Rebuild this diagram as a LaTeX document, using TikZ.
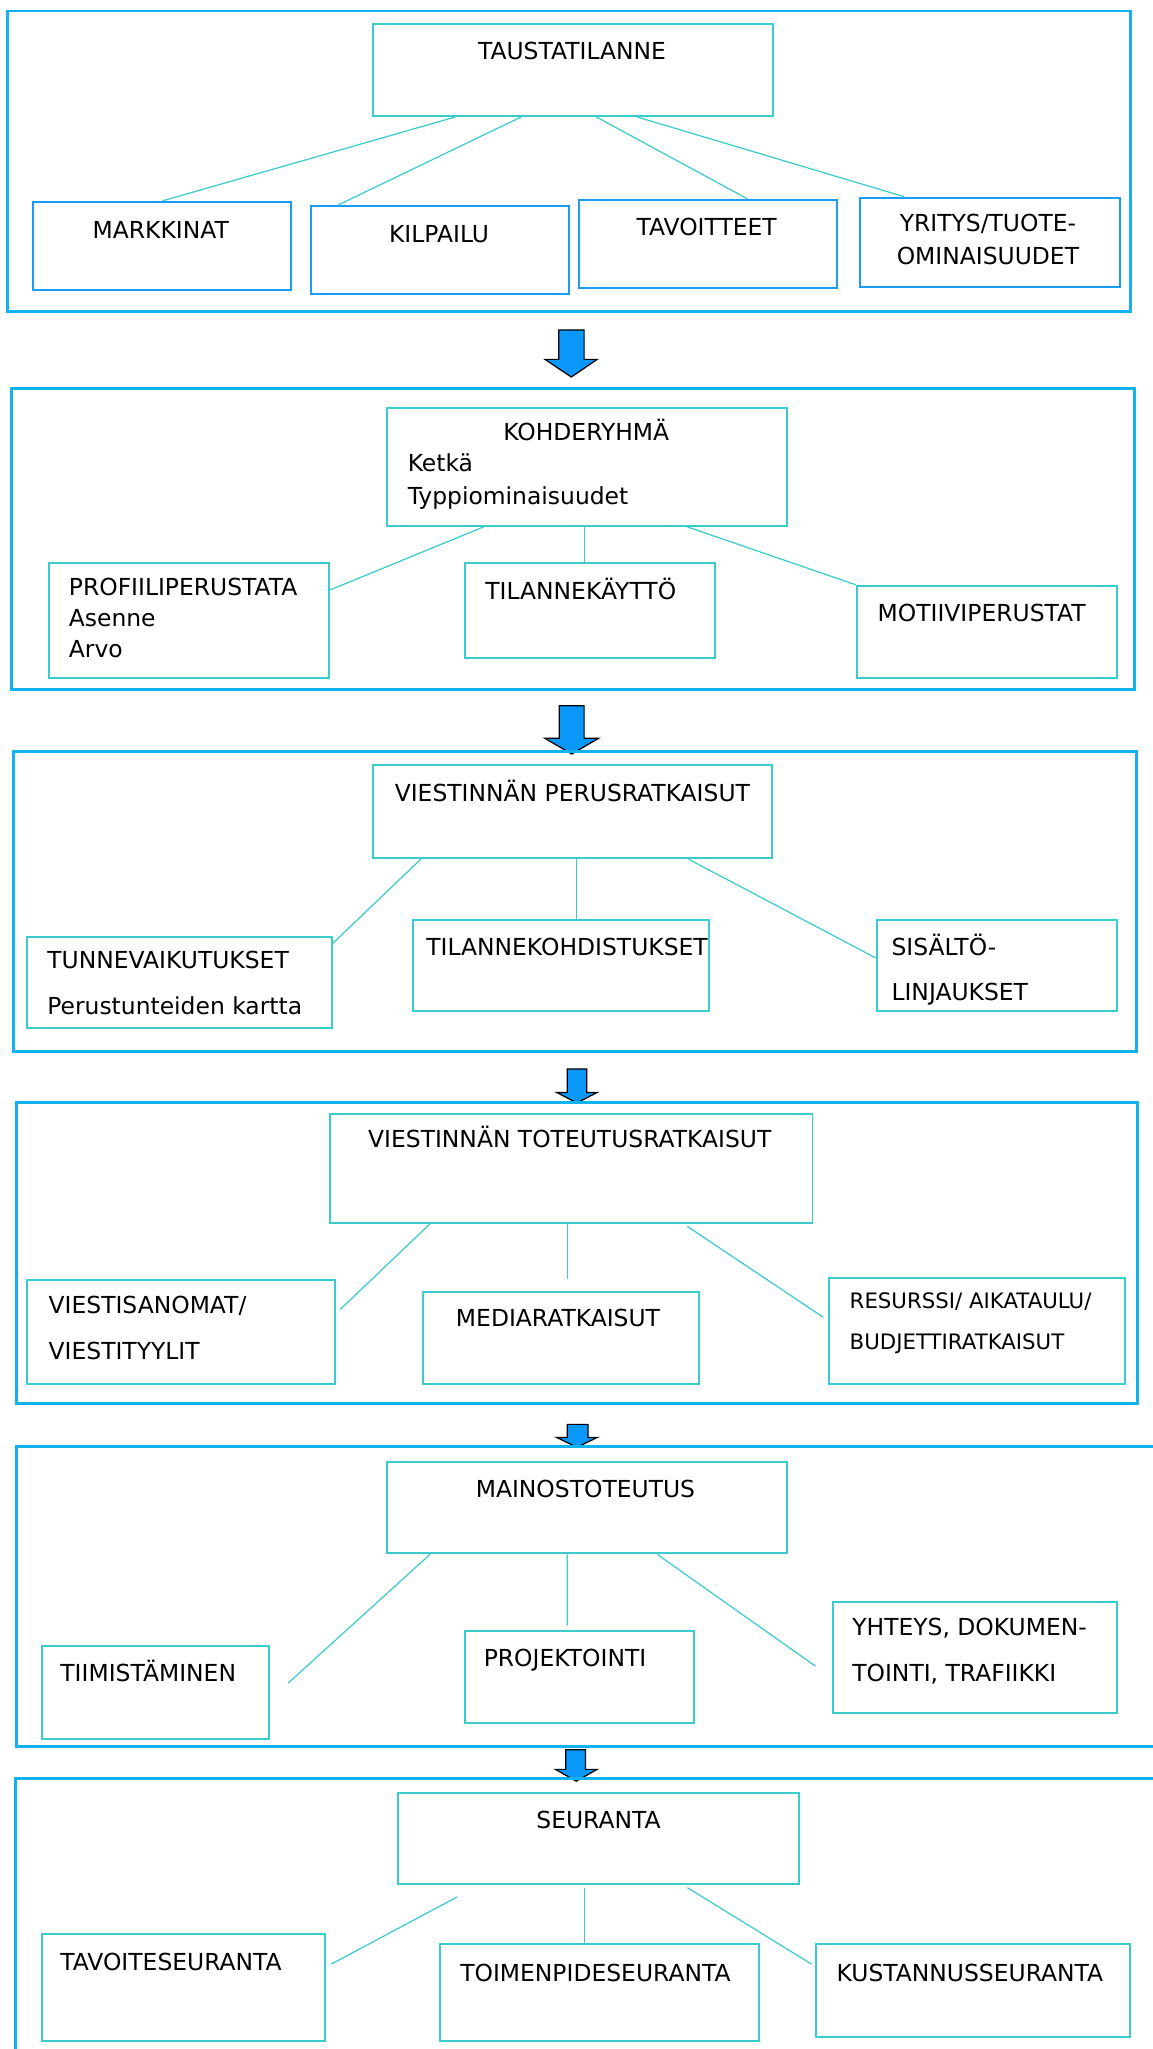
\documentclass[tikz,border=0pt]{standalone}
\usepackage{fontspec}
\setmainfont{DejaVu Sans}
\definecolor{framecol}{HTML}{12B2EE}
\definecolor{boxblue}{HTML}{1A9BF4}
\definecolor{turq}{HTML}{3ACCCC}
\definecolor{arrowfill}{HTML}{0A99FA}

\begin{document}
\begin{tikzpicture}[x=0.03cm, y=-0.03cm,
        frame/.style={draw=framecol, line width=1.9pt},
        boxsize/.style 2 args={minimum width=#1*0.03cm, minimum height=#2*0.03cm},
        bluebox/.style={draw=boxblue, line width=1.3pt, inner sep=0, anchor=north west},
        turqbox/.style={draw=turq, line width=1.3pt, inner sep=0, anchor=north west},
        link/.style={draw=turq, line width=0.8pt},
        lbl/.style={font=\fontsize{15.3}{21}\selectfont, inner sep=0, align=left},
        wide/.style={font=\fontsize{15.3}{30}\selectfont},
        flow/.style={draw=black, fill=arrowfill, line width=0.8pt, line join=miter}]

    \useasboundingbox (0,0) rectangle (882,1568);

    % taustatilanne
    \draw[frame] (6,8.4) rectangle (865.2,238.4);
    \node[turqbox, boxsize={306.5}{70.7}] (taus) at (284.6,17.3) {};
    \node[bluebox, boxsize={197.3}{67.3}] (mark) at (24.3,153.7) {};
    \node[bluebox, boxsize={197.7}{67.6}] (kilp) at (237,156.8) {};
    \node[bluebox, boxsize={197.9}{67.6}] (tavo) at (442,152.2) {};
    \node[bluebox, boxsize={198.5}{68.1}] (yrit) at (657.7,150.4) {};

    \node[lbl, anchor=base] (tausT) at (437.7,45.9) {TAUSTATILANNE};
    \node[lbl, anchor=base] (markT) at (123,182.3) {MARKKINAT};
    \node[lbl, anchor=base] (kilpT) at (336,185.4) {KILPAILU};
    \node[lbl, anchor=base] (tavoT) at (540.8,180.5) {TAVOITTEET};
    \node[lbl, anchor=base, align=center] (yritT) at (756,202.7) {YRITYS/TUOTE-\\[1pt]OMINAISUUDET};

    \draw[link] ([shift={(63.8,0)}]taus.south west) -- ([shift={(100.1,0)}]mark.north west);
    \draw[link] ([shift={(114.1,0)}]taus.south west) -- ([shift={(22,0)}]kilp.north west);
    \draw[link] ([shift={(171.8,0)}]taus.south west) -- ([shift={(130,0)}]tavo.north west);
    \draw[link] ([shift={(203,0)}]taus.south west) -- ([shift={(33.8,0)}]yrit.north west);

    \draw[flow] (427.5,252.5) -- (447,252.5) -- (447,275) -- (457,275) -- (437.2,288.5) -- (417,275) -- (427.5,275) -- cycle;

    % kohderyhma
    \draw[frame] (8.8,297.6) rectangle (868.3,527.3);
    \node[turqbox, boxsize={306.5}{90}] (kohde) at (295.1,311.6) {};
    \node[turqbox, boxsize={214.6}{87.7}] (prof) at (36.6,430.4) {};
    \node[turqbox, boxsize={191.7}{72.4}] (tila) at (354.8,430.4) {};
    \node[turqbox, boxsize={199.1}{70.6}] (moti) at (654.9,447.5) {};

    \node[lbl, anchor=base] (kohdeT) at (448.6,337.1) {KOHDERYHMÄ};
    \node[lbl, anchor=base west] (kohdeL) at (311.8,386.3) {Ketkä\\[1pt]Typpiominaisuudet};
    \node[lbl, anchor=base west] (profT) at (52.5,503) {PROFIILIPERUSTATA\\[-0.8pt]Asenne\\[-0.8pt]Arvo};
    \node[lbl, anchor=base west] (tilaT) at (371.2,458.4) {TILANNEKÄYTTÖ};
    \node[lbl, anchor=base] (motiT) at (751.2,475.5) {MOTIIVIPERUSTAT};

    \draw[link] ([shift={(75.2,0)}]kohde.south west) -- ([shift={(0,21)}]prof.north east);
    \draw[link] ([shift={(151.9,0)}]kohde.south west) -- ([shift={(92.2,0)}]tila.north west);
    \draw[link] ([shift={(230.7,0)}]kohde.south west) -- (moti.north west);

    \draw[flow] (428,540) -- (447,540) -- (447,565) -- (458,565) -- (437.5,577) -- (417,565) -- (428,565) -- cycle;

    % viestinnan perusratkaisut
    \draw[frame] (10,575) rectangle (870,804.5);
    \node[turqbox, boxsize={305}{71}] (perus) at (285,585) {};
    \node[turqbox, boxsize={233}{70}] (tunne) at (20,716) {};
    \node[turqbox, boxsize={227}{70}] (tkoh) at (315,703) {};
    \node[turqbox, boxsize={184}{70}] (sisa) at (670,703) {};

    \node[lbl, anchor=base] (perusT) at (438,613) {VIESTINNÄN PERUSRATKAISUT};
    \node[lbl, wide, anchor=base west] (tunneT) at (36,776.4) {TUNNEVAIKUTUKSET\\Perustunteiden kartta};
    \node[lbl, anchor=base west] (tkohT) at (326,731) {TILANNEKOHDISTUKSET};
    \node[lbl, wide, anchor=base west] (sisaT) at (682,766) {SISÄLTÖ-\\LINJAUKSET};

    \draw[link] ([shift={(37,0)}]perus.south west) -- ([shift={(0,6)}]tunne.north east);
    \draw[link] ([shift={(156,0)}]perus.south west) -- ([shift={(126,0)}]tkoh.north west);
    \draw[link] ([shift={(242,0)}]perus.south west) -- ([shift={(0,30)}]sisa.north west);

    \draw[flow] (434,818) -- (449,818) -- (449,836) -- (457,836) -- (441.5,844) -- (426,836) -- (434,836) -- cycle;

    % viestinnan toteutusratkaisut
    \draw[frame] (12.4,844) rectangle (870.6,1074);
    \node[turqbox, boxsize={369}{83}] (tote) at (252,852) {};
    \node[turqbox, boxsize={236.2}{79}] (viesti) at (19.7,979) {};
    \node[turqbox, boxsize={211}{70}] (media) at (323,988) {};
    \node[turqbox, boxsize={226.5}{81}] (resu) at (634,977) {};

    \node[lbl, anchor=base] (toteT) at (436,878) {VIESTINNÄN TOTEUTUSRATKAISUT};
    \node[lbl, wide, anchor=base west] (viestiT) at (37,1040.5) {VIESTISANOMAT/\\VIESTITYYLIT};
    \node[lbl, anchor=base] (mediaT) at (427,1015) {MEDIARATKAISUT};
    \node[lbl, anchor=base west, font=\fontsize{13.9}{27.2}\selectfont] (resuT) at (650,1033) {RESURSSI/ AIKATAULU/\\BUDJETTIRATKAISUT};

    \draw[link] ([shift={(77,0)}]tote.south west) -- ([shift={(3,23)}]viesti.north east);
    \draw[link] ([shift={(182,0)}]tote.south west) -- ([shift={(111,-9)}]media.north west);
    \draw[link] ([shift={(274,2)}]tote.south west) -- ([shift={(-4,31)}]resu.north west);

    \draw[flow] (434,1090) -- (450,1090) -- (450,1100) -- (457,1100) -- (441.5,1107.5) -- (426,1100) -- (434,1100) -- cycle;

    % mainostoteutus
    \draw[frame] (12.4,1107) rectangle (900,1336.6);
    \node[turqbox, boxsize={306}{70}] (mainos) at (295.3,1118) {};
    \node[turqbox, boxsize={174}{71}] (tiimi) at (31,1259) {};
    \node[turqbox, boxsize={175}{71}] (proj) at (355,1247) {};
    \node[turqbox, boxsize={217}{85}] (yht) at (637,1225) {};

    \node[lbl, anchor=base] (mainosT) at (448,1146) {MAINOSTOTEUTUS};
    \node[lbl, anchor=base west] (tiimiT) at (46,1287) {TIIMISTÄMINEN};
    \node[lbl, anchor=base west] (projT) at (370,1275) {PROJEKTOINTI};
    \node[lbl, wide, anchor=base west] (yhtT) at (652,1287) {YHTEYS, DOKUMEN-\\TOINTI, TRAFIIKKI};

    \draw[link] ([shift={(33.7,0)}]mainos.south west) -- ([shift={(14,29)}]tiimi.north east);
    \draw[link] ([shift={(138.7,0)}]mainos.south west) -- ([shift={(79,-3)}]proj.north west);
    \draw[link] ([shift={(207.7,0)}]mainos.south west) -- ([shift={(-13,50)}]yht.north west);

    \draw[flow] (433,1339) -- (448,1339) -- (448,1354) -- (457,1354) -- (441,1363) -- (425,1354) -- (433,1354) -- cycle;

    % seuranta
    \draw[frame] (12,1361) rectangle (900,1600);
    \node[turqbox, boxsize={307}{70}] (seur) at (304,1371) {};
    \node[turqbox, boxsize={217}{82}] (tavs) at (31,1479) {};
    \node[turqbox, boxsize={244}{74}] (toim) at (336,1487) {};
    \node[turqbox, boxsize={240}{71}] (kust) at (624,1487) {};

    \node[lbl, anchor=base] (seurT) at (458,1399) {SEURANTA};
    \node[lbl, anchor=base west] (tavsT) at (46,1508) {TAVOITESEURANTA};
    \node[lbl, anchor=base west] (toimT) at (352,1516) {TOIMENPIDESEURANTA};
    \node[lbl, anchor=base west] (kustT) at (640,1516) {KUSTANNUSSEURANTA};

    \draw[link] ([shift={(46,9)}]seur.south west) -- ([shift={(4,24)}]tavs.north east);
    \draw[link] ([shift={(143,2)}]seur.south west) -- ([shift={(111,0)}]toim.north west);
    \draw[link] ([shift={(222,2)}]seur.south west) -- ([shift={(-3,16)}]kust.north west);
\end{tikzpicture}
\end{document}
